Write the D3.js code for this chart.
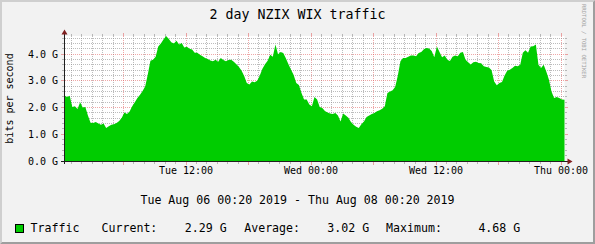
<!DOCTYPE html>
<html>
<head>
<meta charset="utf-8">
<script src="https://cdn.jsdelivr.net/npm/d3@7"></script>
<style>
body{margin:0;background:#f2f2f2}
text{font-family:"DejaVu Sans Mono",monospace}
</style>
</head>
<body>
<svg id="chart" width="595" height="244"></svg>
<script>
//---data: 15 minute samples, Gbit/s---
var startTime=new Date(2019,7,6,0,20)
var endTime=new Date(2019,7,8,0,20)
var stepMinutes=15
var traffic=[
 2.45,2.40,2.44,2.02,2.05,1.95,2.20,2.00,2.02,1.70,
 1.43,1.42,1.46,1.40,1.36,1.40,1.24,1.30,1.36,1.38,
 1.42,1.50,1.62,1.82,1.76,1.85,2.05,2.20,2.36,2.48,
 2.62,2.80,3.25,3.75,3.79,3.90,4.29,4.40,4.55,4.68,
 4.58,4.45,4.40,4.50,4.36,4.42,4.25,4.28,4.20,4.17,
 4.05,4.05,3.98,3.92,3.86,3.82,3.76,3.73,3.79,3.72,
 3.86,3.78,3.73,3.78,3.79,3.72,3.62,3.52,3.38,3.18,
 2.92,2.86,2.98,2.95,3.00,3.20,3.45,3.62,3.75,3.98,
 3.90,4.36,4.00,4.08,4.04,3.85,3.62,3.42,3.22,2.92,
 2.85,2.55,2.30,2.30,2.12,2.05,2.40,2.30,2.02,1.98,
 1.87,1.82,1.78,1.76,1.80,1.70,1.48,1.78,1.70,1.62,
 1.46,1.36,1.28,1.24,1.38,1.48,1.65,1.70,1.76,1.80,
 1.86,1.90,1.96,2.05,2.55,2.60,2.65,2.78,3.20,3.73,
 3.86,3.86,3.90,3.95,3.95,3.92,4.04,4.08,4.18,4.23,
 4.21,4.12,3.88,4.29,4.08,3.88,3.95,3.79,3.74,3.90,
 3.95,3.92,4.05,4.08,3.79,3.70,3.61,3.70,3.72,3.67,
 3.66,3.55,3.52,3.50,3.40,2.98,2.84,2.92,2.96,3.20,
 3.38,3.42,3.48,3.57,3.55,3.60,4.05,4.15,4.05,4.29,
 4.30,4.36,3.60,3.48,3.60,3.35,3.05,2.60,2.36,2.40,
 2.36,2.30,2.29]
var yTicks=[0,1,2,3,4]
var yTickLabels=["0.0 G","1.0 G","2.0 G","3.0 G","4.0 G"]
var xTicks=[new Date(2019,7,6,12),new Date(2019,7,7,0),new Date(2019,7,7,12),new Date(2019,7,8,0)]
var xTickLabels=["Tue 12:00","Wed 00:00","Wed 12:00","Thu 00:00"]
var legendNames=["Traffic"]
var legendStats=["Current:","2.29 G","Average:","3.02 G","Maximum:","4.68 G"]

var svg=d3.select("#chart")
var W=595,H=244
var x=d3.scaleTime().domain([startTime,endTime]).range([64.5,564.5])
var y=d3.scaleLinear().domain([0,4.68]).range([161,36])

var points=traffic.map(function(v,i){
    return {t:new Date(startTime.getTime()+i*stepMinutes*60000),v:v}
})

//---frame---
svg.append("rect").attr("width",W).attr("height",H).attr("fill","#f2f2f2")
svg.append("polygon").attr("points","0,0 595,0 593,2 2,2 2,242 0,244").attr("fill","#cfcfcf")
svg.append("polygon").attr("points","595,0 595,244 0,244 2,242 593,242 593,2").attr("fill","#9e9e9e")

//---canvas---
svg.append("rect").attr("x",64.5).attr("y",36).attr("width",500).attr("height",125).attr("fill","#ffffff")

//---grid (under the area)---
var grid=svg.append("g").attr("shape-rendering","crispEdges")
var minorCol="rgba(143,143,143,0.6)"
var majorCol="rgba(224,80,80,0.5)"
d3.timeHour.range(startTime,endTime).forEach(function(t){
    var gx=Math.floor(x(t))+0.5
    var major=t.getHours()%6==0
    var col=major?majorCol:minorCol
    grid.append("line").attr("x1",gx).attr("x2",gx).attr("y1",36).attr("y2",161)
        .attr("stroke",col).attr("stroke-dasharray","1,1")
    grid.append("line").attr("x1",gx).attr("x2",gx).attr("y1",major?33:34).attr("y2",36).attr("stroke",col)
    grid.append("line").attr("x1",gx).attr("x2",gx).attr("y1",162).attr("y2",major?165:164).attr("stroke",col)
})
d3.range(1,24).forEach(function(k){
    var v=k*0.2
    if(v>4.68)return
    var gy=Math.floor(y(v))+0.5
    var major=k%5==0
    var col=major?majorCol:minorCol
    grid.append("line").attr("x1",64.5).attr("x2",564.5).attr("y1",gy).attr("y2",gy)
        .attr("stroke",col).attr("stroke-dasharray","1,1")
    grid.append("line").attr("x1",major?61:62).attr("x2",64.5).attr("y1",gy).attr("y2",gy).attr("stroke",col)
    grid.append("line").attr("x1",564.5).attr("x2",major?568:567).attr("y1",gy).attr("y2",gy).attr("stroke",col)
})

//---area---
var area=d3.area()
    .x(function(d){return x(d.t)})
    .y0(y(0))
    .y1(function(d){return y(d.v)})
svg.append("path").datum(points).attr("d",area).attr("fill","#00cc00")

//---axes---
svg.append("line").attr("x1",61).attr("x2",568).attr("y1",161.5).attr("y2",161.5).attr("stroke","#1f1f1f")
svg.append("line").attr("x1",64.5).attr("x2",64.5).attr("y1",164).attr("y2",33).attr("stroke","#1f1f1f")
svg.append("polygon").attr("points","64.5,29.5 61.5,34.5 67.5,34.5").attr("fill","#7f1f1f")
svg.append("polygon").attr("points","572.5,161.5 567.5,158.5 567.5,164.5").attr("fill","#7f1f1f")

//---axis labels---
svg.selectAll(".ylab").data(yTicks).enter().append("text")
    .attr("x",58).attr("y",function(d){return y(d)+3.5})
    .attr("text-anchor","end").attr("font-size","10px").attr("fill","#000")
    .text(function(d,i){return yTickLabels[i]})
svg.selectAll(".xlab").data(xTicks).enter().append("text")
    .attr("x",function(d){return x(d)}).attr("y",174)
    .attr("text-anchor","middle").attr("font-size","10px").attr("fill","#000")
    .text(function(d,i){return xTickLabels[i]})

//---titles---
svg.append("text").attr("x",297.5).attr("y",19).attr("text-anchor","middle")
    .attr("font-size","13.3px").text("2 day NZIX WIX traffic")
svg.append("text").attr("transform","translate(13,98.5) rotate(-90)").attr("text-anchor","middle")
    .attr("font-size","10px").text("bits per second")
svg.append("text").attr("transform","translate(581.5,41) rotate(90)").attr("text-anchor","middle")
    .attr("font-size","5.6px").attr("fill","#a0a0a0").text("RRDTOOL / TOBI OETIKER")
svg.append("text").attr("x",297.5).attr("y",204).attr("text-anchor","middle")
    .attr("font-size","11.6px").text("Tue Aug 06 00:20 2019 - Thu Aug 08 00:20 2019")

//---legend---
svg.append("rect").attr("x",15.5).attr("y",224.5).attr("width",8).attr("height",8)
    .attr("fill","#00cc00").attr("stroke","#000")
svg.append("text").attr("x",30.5).attr("y",232).attr("font-size","11.6px").text(legendNames[0])
var statX=[101.5,184.8,244.2,327.3,386.1,478.4]
legendStats.forEach(function(s,i){
    svg.append("text").attr("x",statX[i]).attr("y",232).attr("font-size","11.6px").text(s)
})
</script>
</body>
</html>
